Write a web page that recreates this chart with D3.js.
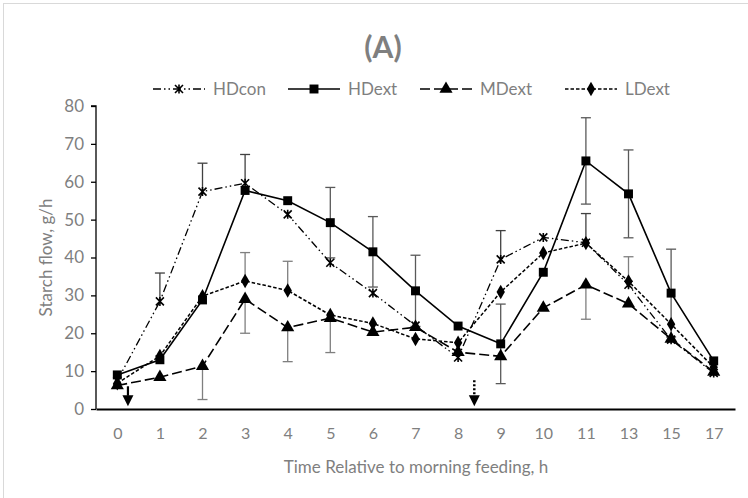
<!DOCTYPE html>
<html>
<head>
<meta charset="utf-8">
<script src="https://cdn.jsdelivr.net/npm/d3@7"></script>
<style>
  body { margin: 0; background: #fff; }
  text { font-family: Lato, "Open Sans", sans-serif; fill: #7f7f7f; }
</style>
</head>
<body>
<div id="chart"></div>
<script>
// hours after morning feeding (category axis)
const hours = ["0", "1", "2", "3", "4", "5", "6", "7", "8", "9", "10", "11", "13", "15", "17"];

// starch flow, g/h
const hdcon = [7.5, 28.4, 57.4, 59.6, 51.4, 38.6, 30.6, 22, 13.6, 39.5, 45.3, 43.9, 32.8, 18.3, 9.5];
const hdext = [9, 13, 28.8, 57.7, 55, 49.2, 41.5, 31.2, 21.9, 17.2, 36.1, 65.5, 56.8, 30.6, 12.7];
const mdext = [6.2, 8.4, 11.3, 29, 21.5, 24, 20.3, 21.6, 15, 13.9, 26.7, 32.8, 27.8, 18.5, 9.8];
const ldext = [6.8, 14, 29.8, 33.8, 31.3, 24.8, 22.6, 18.5, 17.5, 30.9, 41.2, 43.8, 33.7, 22.4, 11];

// error bars (0 = not drawn)
const hdconErr = [0, 7.5, 7.5, 7.6, 0, 0, 0, 0, 0, 7.6, 0, 7.7, 0, 0, 0];
const hdextErr = [0, 0, 0, 0, 0, 9.3, 9.3, 9.4, 0, 10.5, 0, 11.4, 11.6, 11.6, 0];
const mdextErr = [0, 0, 8.8, 9, 9, 9.1, 0, 0, 0, 0, 0, 9.1, 0, 0, 0];
const ldextErr = [0, 0, 0, 7.5, 7.7, 0, 0, 0, 0, 0, 0, 0, 6.5, 0, 0];

const yTicks = [0, 10, 20, 30, 40, 50, 60, 70, 80];

// feeding arrows: placed after a category at a fraction of a step
const feedings = [
    { hour: "0", frac: 0.25, dotted: false },
    { hour: "8", frac: 0.38, dotted: true }
];

const width = 748, height = 498;
const margin = { top: 106, right: 13, bottom: 89, left: 96 };

const svg = d3.select("#chart").append("svg")
    .attr("width", width)
    .attr("height", height);

// chart area border
svg.append("rect")
    .attr("x", 3.5).attr("y", 3.5)
    .attr("width", 760).attr("height", 520)
    .attr("fill", "none")
    .attr("stroke", "#d9d9d9");

const x = d3.scalePoint()
    .domain(hours)
    .range([margin.left, width - margin.right])
    .padding(0.5);

const y = d3.scaleLinear()
    .domain([0, 80])
    .range([height - margin.bottom, margin.top]);

// star marker like Excel's (x with a vertical bar)
const starPath = "M-4,-4L4,4M-4,4L4,-4M0,-4.5L0,4.5";

const series = [
    { name: "HDcon", values: hdcon, err: hdconErr, dir: "plus", dash: "8,3,1.5,3,1.5,3", width: 1.3, marker: "star", errColor: "#404040" },
    { name: "HDext", values: hdext, err: hdextErr, dir: "both", dash: null, width: 1.6, marker: "square", errColor: "#595959" },
    { name: "MDext", values: mdext, err: mdextErr, dir: "minus", dash: "10,4", width: 1.6, marker: "triangle", errColor: "#7f7f7f" },
    { name: "LDext", values: ldext, err: ldextErr, dir: "plus", dash: "3.5,2", width: 1.5, marker: "diamond", errColor: "#7f7f7f" }
];

function drawMarker(g, type) {
    if (type === "star") {
        g.append("path").attr("d", starPath)
            .attr("stroke", "#000").attr("stroke-width", 1.6).attr("fill", "none");
    } else {
        const sym = { square: d3.symbolSquare, triangle: d3.symbolTriangle, diamond: d3.symbolDiamond }[type];
        const size = { square: 80, triangle: 75, diamond: 60 }[type];
        g.append("path").attr("d", d3.symbol(sym, size)())
            .attr("fill", "#000");
    }
}

// axes
const yAxis = svg.append("g")
    .attr("transform", `translate(${margin.left},0)`)
    .call(d3.axisLeft(y).tickValues(yTicks).tickSize(5).tickPadding(7));
yAxis.select(".domain").attr("stroke", "#000").attr("stroke-width", 1.3).attr("d", `M-5,${y(80)}H0V${y(0)}`);
yAxis.selectAll(".tick line").attr("stroke", "#000").attr("stroke-width", 1.3);
yAxis.selectAll(".tick text").style("font-size", "17px").attr("fill", "#7f7f7f");

const xAxis = svg.append("g")
    .attr("transform", `translate(0,${y(0)})`)
    .call(d3.axisBottom(x).tickSize(0).tickPadding(19));
xAxis.select(".domain").attr("stroke", "#000").attr("stroke-width", 1.8);
xAxis.selectAll(".tick text").style("font-size", "16px").attr("fill", "#7f7f7f");

// error bars
series.forEach(s => {
    const g = svg.append("g");
    s.values.forEach((v, i) => {
        const e = s.err[i];
        if (!e) return;
        const hi = s.dir === "minus" ? v : v + e;
        const lo = s.dir === "plus" ? v : v - e;
        const cx = x(hours[i]);
        g.append("line")
            .attr("x1", cx).attr("x2", cx)
            .attr("y1", y(hi)).attr("y2", y(lo))
            .attr("stroke", s.errColor).attr("stroke-width", 1.3);
        if (s.dir !== "minus") {
            g.append("line").attr("x1", cx - 5).attr("x2", cx + 5)
                .attr("y1", y(hi)).attr("y2", y(hi))
                .attr("stroke", s.errColor).attr("stroke-width", 1.3);
        }
        if (s.dir !== "plus") {
            g.append("line").attr("x1", cx - 5).attr("x2", cx + 5)
                .attr("y1", y(lo)).attr("y2", y(lo))
                .attr("stroke", s.errColor).attr("stroke-width", 1.3);
        }
    });
});

// lines + markers
const line = d3.line()
    .x((d, i) => x(hours[i]))
    .y(d => y(d));

series.forEach(s => {
    svg.append("path")
        .datum(s.values)
        .attr("d", line)
        .attr("fill", "none")
        .attr("stroke", "#000")
        .attr("stroke-width", s.width)
        .attr("stroke-dasharray", s.dash);
    s.values.forEach((v, i) => {
        const g = svg.append("g").attr("transform", `translate(${x(hours[i])},${y(v)})`);
        drawMarker(g, s.marker);
    });
});

// feeding arrows
const step = x.step();
feedings.forEach(f => {
    const ax = x(f.hour) + f.frac * step;
    const g = svg.append("g");
    g.append("line")
        .attr("x1", ax).attr("x2", ax)
        .attr("y1", f.dotted ? y(7.6) : y(6)).attr("y2", y(3.5))
        .attr("stroke", "#000").attr("stroke-width", f.dotted ? 2.5 : 2.2)
        .attr("stroke-dasharray", f.dotted ? "2,2" : null);
    g.append("path")
        .attr("d", `M${ax - 5.5},${y(3.6)}L${ax + 5.5},${y(3.6)}L${ax},${y(0.7)}Z`)
        .attr("fill", "#000");
});

// legend
const legendX = [153, 288, 420, 565];
const legend = svg.append("g");
series.forEach((s, i) => {
    const lx = legendX[i], ly = 89;
    legend.append("line")
        .attr("x1", lx).attr("x2", lx + 52)
        .attr("y1", ly).attr("y2", ly)
        .attr("stroke", "#000").attr("stroke-width", s.width)
        .attr("stroke-dasharray", s.dash);
    const m = legend.append("g").attr("transform", `translate(${lx + 26},${ly})`);
    drawMarker(m, s.marker);
    legend.append("text")
        .attr("x", lx + 60).attr("y", ly)
        .attr("dy", "0.35em")
        .style("font-size", "17px")
        .text(s.name);
});

// title
svg.append("text")
    .attr("x", 383).attr("y", 58)
    .attr("text-anchor", "middle")
    .style("font-size", "30px")
    .style("font-weight", "bold")
    .text("(A)");

// axis titles
svg.append("text")
    .attr("transform", `translate(46,${(y(0) + y(80)) / 2}) rotate(-90)`)
    .attr("text-anchor", "middle")
    .attr("dy", "0.35em")
    .style("font-size", "17px")
    .text("Starch flow, g/h");

svg.append("text")
    .attr("x", 416).attr("y", 473)
    .attr("text-anchor", "middle")
    .style("font-size", "17px")
    .text("Time Relative to morning feeding, h");
</script>
</body>
</html>
